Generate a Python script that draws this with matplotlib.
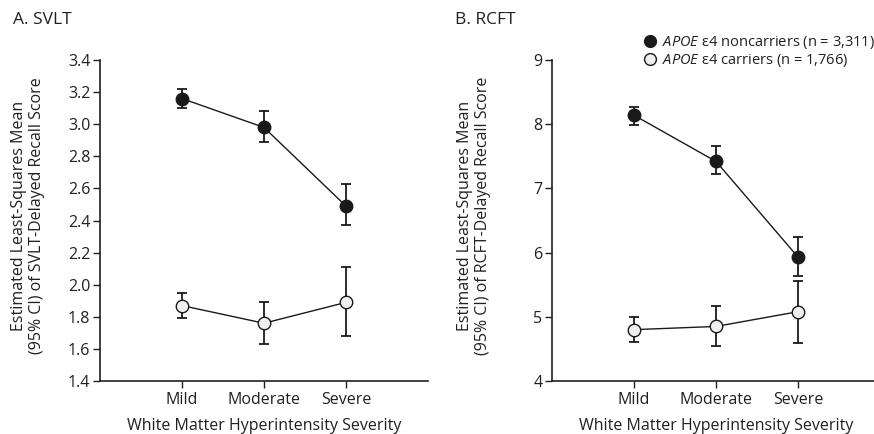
import matplotlib
matplotlib.use('Agg')
import matplotlib.pyplot as plt
from matplotlib.lines import Line2D

plt.rcParams.update({
    'font.family': ['Open Sans', 'DejaVu Sans'],
    'font.size': 11.5,
    'mathtext.fontset': 'custom',
    'mathtext.rm': 'Open Sans',
    'mathtext.it': 'Open Sans:italic',
    'axes.edgecolor': '#231f20',
    'xtick.color': '#231f20',
    'ytick.color': '#231f20',
    'text.color': '#231f20',
    'axes.labelcolor': '#231f20',
})

severity = ['Mild', 'Moderate', 'Severe']
xpos = [1, 2, 3]

# SVLT delayed recall: mean, lower CI, upper CI
svlt_non = [3.16, 2.98, 2.49]
svlt_non_lo = [3.10, 2.89, 2.37]
svlt_non_hi = [3.22, 3.08, 2.63]
svlt_car = [1.87, 1.76, 1.89]
svlt_car_lo = [1.79, 1.63, 1.68]
svlt_car_hi = [1.95, 1.89, 2.11]

# RCFT delayed recall
rcft_non = [8.14, 7.42, 5.93]
rcft_non_lo = [7.99, 7.22, 5.63]
rcft_non_hi = [8.27, 7.66, 6.24]
rcft_car = [4.80, 4.85, 5.08]
rcft_car_lo = [4.60, 4.54, 4.59]
rcft_car_hi = [5.00, 5.17, 5.56]

DARK = '#1a1a1a'
OPEN_FILL = '#eeeff0'

fig = plt.figure(figsize=(8.74, 4.34), dpi=100)
ax1 = fig.add_axes([0.1144, 0.1221, 0.3753, 0.7396])
ax2 = fig.add_axes([0.6316, 0.1221, 0.3753, 0.7396])


def draw_series(ax, y, lo, hi, filled):
    err = [[m - l for m, l in zip(y, lo)], [h - m for m, h in zip(y, hi)]]
    ax.errorbar(xpos, y, yerr=err, fmt='none', ecolor=DARK, elinewidth=1.3,
                capsize=3.5, capthick=1.3, zorder=2)
    ax.plot(xpos, y, color=DARK, linewidth=1.0, zorder=3)
    ax.plot(xpos, y, linestyle='none', marker='o', markersize=9,
            markerfacecolor=DARK if filled else OPEN_FILL,
            markeredgecolor=DARK, markeredgewidth=1.0, zorder=4)


def style_axes(ax, ylim, yticks, ylabels):
    ax.set_xlim(0, 4)
    ax.set_ylim(*ylim)
    ax.set_xticks(xpos)
    ax.set_xticklabels(severity)
    ax.set_yticks(yticks)
    ax.set_yticklabels(ylabels)
    for s in ['top', 'right']:
        ax.spines[s].set_visible(False)
    for s in ['left', 'bottom']:
        ax.spines[s].set_linewidth(1.2)
    ax.tick_params(direction='out', length=5, width=1.0, pad=2)
    ax.tick_params(axis='x', pad=3)
    ax.set_xlabel('White Matter Hyperintensity Severity', labelpad=7)


draw_series(ax1, svlt_non, svlt_non_lo, svlt_non_hi, True)
draw_series(ax1, svlt_car, svlt_car_lo, svlt_car_hi, False)
svlt_ticks = [1.4, 1.6, 1.8, 2.0, 2.2, 2.4, 2.6, 2.8, 3.0, 3.2, 3.4]
style_axes(ax1, (1.4, 3.4), svlt_ticks, [f'{t:.1f}' for t in svlt_ticks])

draw_series(ax2, rcft_non, rcft_non_lo, rcft_non_hi, True)
draw_series(ax2, rcft_car, rcft_car_lo, rcft_car_hi, False)
rcft_ticks = [4, 5, 6, 7, 8, 9]
style_axes(ax2, (4, 9), rcft_ticks, [str(t) for t in rcft_ticks])

fig.text(13 / 874, 1 - 20 / 434, 'A. SVLT', fontsize=12.5, va='center', ha='left')
fig.text(455 / 874, 1 - 20 / 434, 'B. RCFT', fontsize=12.5, va='center', ha='left')

fig.text(28 / 874, 1 - 216 / 434,
         'Estimated Least-Squares Mean\n(95% CI) of SVLT-Delayed Recall Score',
         rotation=90, ha='center', va='center', multialignment='center',
         linespacing=1.1)
fig.text(474 / 874, 1 - 216 / 434,
         'Estimated Least-Squares Mean\n(95% CI) of RCFT-Delayed Recall Score',
         rotation=90, ha='center', va='center', multialignment='center',
         linespacing=1.1)

handles = [
    Line2D([], [], linestyle='none', marker='o', markersize=8.5,
           markerfacecolor=DARK, markeredgecolor=DARK),
    Line2D([], [], linestyle='none', marker='o', markersize=8.5,
           markerfacecolor=OPEN_FILL, markeredgecolor=DARK),
]
labels = [r'$\mathit{APOE}$ ε4 noncarriers (n = 3,311)',
          r'$\mathit{APOE}$ ε4 carriers (n = 1,766)']
fig.legend(handles, labels, loc='upper left',
           bbox_to_anchor=(643 / 874, 1 - 34 / 434), frameon=False,
           handletextpad=0.3, handlelength=1.0, labelspacing=0.1,
           borderpad=0, borderaxespad=0, fontsize=10.5)

fig.savefig('out.png', dpi=100)
